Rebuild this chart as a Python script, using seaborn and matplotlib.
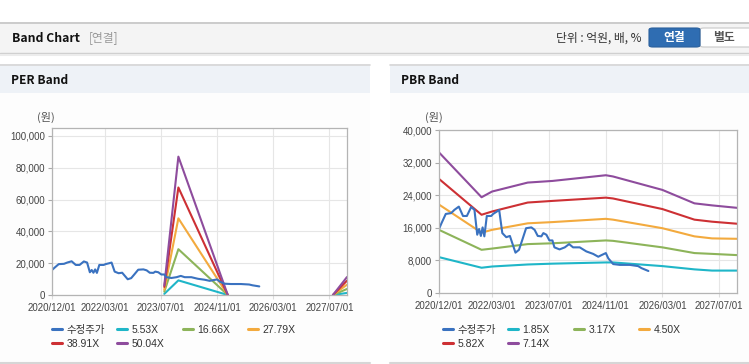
import pandas as pd
import matplotlib.pyplot as plt
from matplotlib.patches import Rectangle, FancyBboxPatch
from matplotlib.lines import Line2D
from matplotlib.ticker import FuncFormatter
import seaborn as sns

# -----------------------------------------------------------
# Data
# -----------------------------------------------------------
price_dates = ['2020-12-01', '2020-12-22', '2021-01-28', '2021-03-15', '2021-04-12',
               '2021-05-20', '2021-06-25', '2021-07-28', '2021-09-03', '2021-10-01',
               '2021-10-25', '2021-11-10', '2021-11-25', '2021-12-10', '2021-12-25',
               '2022-01-15', '2022-02-22', '2022-03-10', '2022-04-12', '2022-05-01',
               '2022-05-28', '2022-07-01', '2022-08-01', '2022-08-22', '2022-09-18',
               '2022-10-18', '2022-11-15', '2022-12-18', '2023-02-01', '2023-03-01',
               '2023-03-28', '2023-04-28', '2023-05-15', '2023-06-10', '2023-07-06',
               '2023-08-01', '2023-08-18', '2023-10-01', '2023-11-15', '2023-12-22',
               '2024-01-25', '2024-03-22', '2024-05-18', '2024-07-15', '2024-08-28',
               '2024-09-25', '2024-11-01', '2024-11-22', '2025-01-03', '2025-03-01',
               '2025-05-25', '2025-08-05', '2025-09-03', '2025-11-01']
price_vals = [15700, 17100, 19400, 19600, 20400, 21200, 18900, 18900, 21100, 20400,
              14300, 15700, 14000, 16100, 13900, 18900, 18900, 19400, 20000, 20400,
              14700, 13700, 14000, 12200, 9900, 10600, 13000, 15900, 16100, 15500,
              14000, 13900, 14700, 14300, 12900, 12900, 11200, 10700, 11200, 12000,
              11200, 11200, 10200, 9600, 8900, 9300, 9800, 8500, 7100, 6900,
              6900, 6600, 6100, 5400]

# PER band: two separate stretches of data
per_dates_a = ['2023-08-01', '2023-12-01', '2025-02-01']
per_dates_b = ['2027-08-01', '2027-12-01']
per_labels = ['5.53X', '16.66X', '27.79X', '38.91X', '50.04X']
per_a = [[700, 9200, 0],
         [2100, 28800, 0],
         [3300, 48200, 0],
         [5100, 67600, 0],
         [6000, 87000, 0]]
per_b = [[0, 1300],
         [0, 3800],
         [0, 6500],
         [0, 9000],
         [0, 11300]]

# PBR band
pbr_dates = ['2020-12-01', '2021-12-01', '2022-03-01', '2023-01-01', '2023-08-01',
             '2024-11-01', '2025-01-01', '2026-03-01', '2026-12-01', '2027-05-01',
             '2027-12-01']
pbr_labels = ['1.85X', '3.17X', '4.50X', '5.82X', '7.14X']
pbr_185 = [8800, 6200, 6500, 7000, 7200, 7500, 7500, 6600, 5800, 5500, 5500]
pbr_317 = [15500, 10600, 10900, 12000, 12200, 12900, 12800, 11200, 9800, 9600, 9300]
pbr_450 = [21700, 14800, 15500, 17100, 17400, 18200, 18000, 15900, 13900, 13400, 13300]
pbr_582 = [28000, 19200, 20000, 22200, 22600, 23400, 23200, 20600, 18000, 17500, 17000]
pbr_714 = [34500, 23500, 24900, 27100, 27500, 28900, 28600, 25300, 22000, 21500, 20900]

tick_labels = ['2020/12/01', '2022/03/01', '2023/07/01', '2024/11/01', '2026/03/01', '2027/07/01']
per_yticks = [0, 20000, 40000, 60000, 80000, 100000]
pbr_yticks = [0, 8000, 16000, 24000, 32000, 40000]

price_color = '#3a72c0'
band_colors = ['#1fb6c8', '#8db45a', '#f3aa3e', '#cd3034', '#8e4c9d']

# -----------------------------------------------------------
# Figure setup
# -----------------------------------------------------------
sns.set_style('whitegrid')
plt.rcParams['font.family'] = ['Liberation Sans', 'Noto Sans CJK KR']

W, H = 749, 364
fig = plt.figure(figsize=(W / 100, H / 100), dpi=100)
fig.patch.set_facecolor('white')


def fx(x):
    return x / W


def fy(y):
    return 1 - y / H


def rect(x0, y0, x1, y1, fc, ec='none', lw=0, z=-10):
    fig.add_artist(Rectangle((fx(x0), fy(y1)), (x1 - x0) / W, (y1 - y0) / H,
                             transform=fig.transFigure, facecolor=fc,
                             edgecolor=ec, linewidth=lw, zorder=z))


def hline(x0, x1, y, color, lw=1.0):
    fig.add_artist(Line2D([fx(x0), fx(x1)], [fy(y), fy(y)], transform=fig.transFigure,
                          color=color, linewidth=lw, zorder=-5))


# header bar
rect(0, 22, W, 53, '#f4f4f4')
hline(0, W, 22.5, '#c4c4c4', 1.2)
hline(0, W, 53, '#cfcfcf', 1.0)
hline(0, W, 54.5, '#ececec', 1.5)
fig.text(fx(12), fy(38), 'Band Chart', fontsize=8.8, fontweight='bold', va='center',
         family=['Noto Sans CJK KR'], color='#111')
fig.text(fx(89), fy(38), '[연결]', fontsize=8.5, va='center', color='#999',
         family=['Noto Sans CJK KR'])
fig.text(fx(642), fy(38.5), '단위 : 억원, 배, %', fontsize=8.5, va='center', ha='right',
         family=['Noto Sans CJK KR'], color='#333')
fig.add_artist(FancyBboxPatch((fx(700), fy(47)), 60 / W, 19 / H,
                              boxstyle='round,pad=0,rounding_size=0.005',
                              transform=fig.transFigure, facecolor='white',
                              edgecolor='#c8c8c8', linewidth=0.8, zorder=-4))
fig.add_artist(FancyBboxPatch((fx(649), fy(47)), 51 / W, 19 / H,
                              boxstyle='round,pad=0,rounding_size=0.005',
                              transform=fig.transFigure, facecolor='#2f6db2',
                              edgecolor='#2a5f9c', linewidth=0.8, zorder=-3))
fig.text(fx(674), fy(38), '연결', fontsize=8.5, fontweight='bold', ha='center', va='center',
         color='white', family=['Noto Sans CJK KR'])
fig.text(fx(724), fy(38), '별도', fontsize=8.5, fontweight='bold', ha='center', va='center',
         color='#555', family=['Noto Sans CJK KR'])

# panels
for (px0, px1, title) in [(0, 370, 'PER Band'), (390, W, 'PBR Band')]:
    rect(px0, 64, px1, 362, '#fdfdfd')
    rect(px0, 64, px1, 93, '#eef2f7')
    hline(px0, px1, 64.5, '#d6d6d6', 1.2)
    hline(px0, px1, 362.5, '#d6d6d6', 1.5)
    fig.text(fx(px0 + 11), fy(80), title, fontsize=8.6, fontweight='bold', va='center',
             family=['Noto Sans CJK KR'], color='#111')

per_ax = fig.add_axes([fx(52), fy(295), 295 / W, 167 / H])
pbr_ax = fig.add_axes([fx(439), fy(293), 298 / W, 163 / H])

price_x = pd.to_datetime(price_dates)

# -----------------------------------------------------------
# PER band
# -----------------------------------------------------------
for i, c in enumerate(band_colors):
    sns.lineplot(x=pd.to_datetime(per_dates_a), y=per_a[i], ax=per_ax, color=c,
                 linewidth=1.5, legend=False)
    sns.lineplot(x=pd.to_datetime(per_dates_b), y=per_b[i], ax=per_ax, color=c,
                 linewidth=1.5, legend=False)
sns.lineplot(x=price_x, y=price_vals, ax=per_ax, color=price_color, linewidth=1.5,
             legend=False)
per_ax.set_ylim(0, 105000)
per_ax.set_yticks(per_yticks)

# -----------------------------------------------------------
# PBR band
# -----------------------------------------------------------
pbr_x = pd.to_datetime(pbr_dates)
for vals, c in zip([pbr_185, pbr_317, pbr_450, pbr_582, pbr_714], band_colors):
    sns.lineplot(x=pbr_x, y=vals, ax=pbr_ax, color=c, linewidth=1.5, legend=False)
sns.lineplot(x=price_x, y=price_vals, ax=pbr_ax, color=price_color, linewidth=1.5,
             legend=False)
pbr_ax.set_ylim(0, 40000)
pbr_ax.set_yticks(pbr_yticks)

# common axis styling
for ax in [per_ax, pbr_ax]:
    ax.set_facecolor('white')
    ax.set_xlim(pd.Timestamp('2020-12-01'), pd.Timestamp('2027-12-01'))
    ax.set_xticks(pd.to_datetime(tick_labels, format='%Y/%m/%d'))
    ax.set_xticklabels(tick_labels)
    ax.yaxis.set_major_formatter(FuncFormatter(lambda v, p: f'{int(v):,}'))
    ax.set_xlabel('')
    ax.set_ylabel('')
    ax.grid(True, color='#e6e6e6', linewidth=0.8)
    for s in ax.spines.values():
        s.set_color('#b4b4b4')
        s.set_linewidth(0.9)
    ax.tick_params(axis='y', length=3, width=0.8, color='#aaa', labelsize=7,
                   labelcolor='#444', pad=2, left=True)
    ax.tick_params(axis='x', length=3, width=0.8, color='#ddd', labelsize=7,
                   labelcolor='#444', pad=3, bottom=True)

fig.text(fx(46), fy(117), '(원)', fontsize=8, ha='center', va='center', color='#555',
         family=['Noto Sans CJK KR'])
fig.text(fx(434), fy(117), '(원)', fontsize=8, ha='center', va='center', color='#555',
         family=['Noto Sans CJK KR'])

# -----------------------------------------------------------
# Legends (fixed grid like the web chart)
# -----------------------------------------------------------
col_x = [52, 117, 183, 248]
row_y = [330, 344]
for x_off, labels in [(0, per_labels), (391, pbr_labels)]:
    names = ['수정주가'] + labels
    colors = [price_color] + band_colors
    for k, (name, c) in enumerate(zip(names, colors)):
        h = Line2D([], [], color=c, linewidth=2.2)
        fig.legend([h], [name], loc='center left',
                   bbox_to_anchor=(fx(col_x[k % 4] + x_off), fy(row_y[k // 4])),
                   frameon=False, borderpad=0, borderaxespad=0, handlelength=1.0,
                   handletextpad=0.4, prop={'size': 7.5}, labelcolor='#333')

plt.savefig('out.png', dpi=100)
